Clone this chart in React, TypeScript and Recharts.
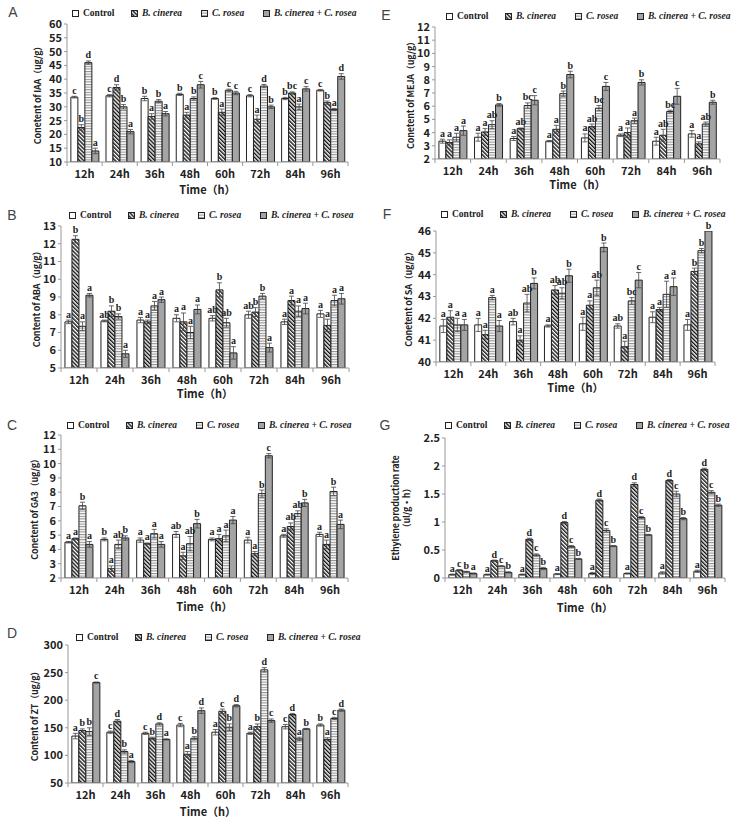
import React from "react";
import { Bar, BarChart, ErrorBar, LabelList, XAxis, YAxis } from "recharts";

const categories = ["12h", "24h", "36h", "48h", "60h", "72h", "84h", "96h"];
const seriesNames = ["Control", "B. cinerea", "C. rosea", "B. cinerea + C. rosea"];

// A - IAA
const iaaCtrl = [33.5, 34, 33, 34.5, 33, 34, 33, 36];
const iaaBc = [22.5, 37, 26.5, 27, 28, 25.5, 35, 31.5];
const iaaCr = [46, 30, 32, 33, 36, 37.5, 30, 29];
const iaaMix = [14, 21, 27.5, 38, 35, 30, 36.5, 41];
const iaaCtrlErr = [0.3, 0.4, 0.8, 0.4, 0.3, 0.4, 0.4, 0.3];
const iaaBcErr = [1, 1, 1, 1, 1.2, 1.5, 0.4, 0.6];
const iaaCrErr = [0.6, 0.8, 0.6, 0.6, 0.4, 0.6, 1, 0.4];
const iaaMixErr = [1, 0.8, 0.8, 1.2, 0.6, 0.6, 0.8, 1];
const iaaCtrlSig = "c c b b b c b c".split(" ");
const iaaBcSig = "b d a a a a bc b".split(" ");
const iaaCrSig = "d b b b c d a a".split(" ");
const iaaMixSig = "a a a c c b c d".split(" ");
const iaaTicks = [10, 15, 20, 25, 30, 35, 40, 45, 50, 55, 60];

// B - ABA
const abaCtrl = [7.6, 7.65, 7.7, 7.8, 7.8, 8.0, 7.6, 8.05];
const abaBc = [12.25, 8.2, 7.6, 7.6, 9.4, 8.15, 8.8, 7.4];
const abaCr = [7.35, 7.9, 8.5, 7.0, 7.55, 9.05, 8.2, 8.8];
const abaMix = [9.1, 5.8, 8.85, 8.3, 5.85, 6.15, 8.35, 8.9];
const abaCtrlErr = [0.1, 0.05, 0.15, 0.2, 0.15, 0.2, 0.15, 0.2];
const abaBcErr = [0.2, 0.3, 0.1, 0.5, 0.4, 0.25, 0.25, 0.35];
const abaCrErr = [0.25, 0.15, 0.25, 0.35, 0.25, 0.15, 0.3, 0.3];
const abaMixErr = [0.1, 0.2, 0.15, 0.25, 0.35, 0.25, 0.3, 0.3];
const abaCtrlSig = "a ab a a ab ab a a".split(" ");
const abaBcSig = "b b a a b b a a".split(" ");
const abaCrSig = "a b a a ab b a a".split(" ");
const abaMixSig = "a a a a a a a a".split(" ");
const abaTicks = [5, 6, 7, 8, 9, 10, 11, 12, 13];

// C - GA3
const gaCtrl = [4.5, 4.7, 4.65, 5.05, 4.7, 4.65, 4.95, 5.05];
const gaBc = [4.75, 2.65, 4.4, 3.55, 4.75, 3.7, 5.6, 4.35];
const gaCr = [7.05, 4.35, 5.1, 4.4, 4.95, 7.9, 6.5, 8.05];
const gaMix = [4.35, 4.8, 4.35, 5.8, 6.05, 10.55, 7.25, 5.75];
const gaCtrlErr = [0.05, 0.1, 0.15, 0.2, 0.1, 0.2, 0.1, 0.15];
const gaBcErr = [0.05, 0.2, 0.05, 0.25, 0.3, 0.15, 0.25, 0.3];
const gaCrErr = [0.25, 0.3, 0.3, 0.5, 0.4, 0.25, 0.2, 0.3];
const gaMixErr = [0.2, 0.15, 0.2, 0.3, 0.25, 0.15, 0.25, 0.3];
const gaCtrlSig = "a b a ab a a a a".split(" ");
const gaBcSig = "a a a a a a ab a".split(" ");
const gaCrSig = "b ab a ab a b ab b".split(" ");
const gaMixSig = "a b a b a c b a".split(" ");
const gaTicks = [2, 3, 4, 5, 6, 7, 8, 9, 10, 11, 12];

// D - ZT
const ztCtrl = [135, 142, 140, 155, 142, 140, 152, 155];
const ztBc = [145, 162, 131, 102, 180, 152, 174, 129];
const ztCr = [143, 107, 157, 131, 151, 255, 130, 167];
const ztMix = [232, 89, 129, 181, 190, 163, 148, 182];
const ztCtrlErr = [5, 2, 2, 3, 5, 2, 4, 2];
const ztBcErr = [3, 3, 2, 5, 4, 5, 2, 3];
const ztCrErr = [7, 3, 2, 3, 6, 4, 3, 2];
const ztMixErr = [1, 2, 1, 5, 2, 3, 1, 2];
const ztCtrlSig = "a c c c a a c b".split(" ");
const ztBcSig = "b d b a c b d a".split(" ");
const ztCrSig = "b b d b b d a c".split(" ");
const ztMixSig = "c a a d d c b d".split(" ");
const ztTicks = [50, 100, 150, 200, 250, 300];

// E - MEJA
const mejaCtrl = [3.35, 3.65, 3.55, 3.35, 3.6, 3.8, 3.35, 3.9];
const mejaBc = [3.25, 4.05, 4.3, 4.25, 4.45, 4.0, 3.8, 3.15];
const mejaCr = [3.65, 4.6, 6.05, 6.95, 5.85, 4.9, 5.6, 4.65];
const mejaMix = [4.15, 6.1, 6.45, 8.4, 7.5, 7.8, 6.75, 6.3];
const mejaCtrlErr = [0.15, 0.3, 0.15, 0.05, 0.3, 0.1, 0.3, 0.25];
const mejaBcErr = [0.2, 0.25, 0.05, 0.3, 0.2, 0.35, 0.45, 0.15];
const mejaCrErr = [0.3, 0.3, 0.2, 0.2, 0.2, 0.2, 0.1, 0.15];
const mejaMixErr = [0.35, 0.1, 0.35, 0.25, 0.3, 0.2, 0.6, 0.15];
const mejaCtrlSig = "a a a a a a a a".split(" ");
const mejaBcSig = "a a ab a ab a ab a".split(" ");
const mejaCrSig = "a ab bc b bc a bc ab".split(" ");
const mejaMixSig = "a b c b c b c b".split(" ");
const mejaTicks = [2, 3, 4, 5, 6, 7, 8, 9, 10, 11, 12];

// F - SA
const saCtrl = [41.65, 41.7, 41.85, 41.65, 41.75, 41.65, 42.05, 41.7];
const saBc = [42.05, 41.25, 41.0, 43.3, 42.6, 40.7, 42.4, 44.15];
const saCr = [41.7, 42.95, 42.7, 43.15, 43.4, 42.8, 43.1, 45.1];
const saMix = [41.7, 41.65, 43.6, 43.95, 45.25, 43.75, 43.45, 46.0];
const saCtrlErr = [0.3, 0.3, 0.15, 0.05, 0.3, 0.1, 0.25, 0.25];
const saBcErr = [0.3, 0.2, 0.2, 0.2, 0.2, 0.25, 0.1, 0.15];
const saCrErr = [0.3, 0.1, 0.4, 0.25, 0.35, 0.15, 0.6, 0.1];
const saMixErr = [0.25, 0.25, 0.25, 0.3, 0.2, 0.35, 0.4, 0];
const saCtrlSig = "a a ab a a ab a a".split(" ");
const saBcSig = "a a a ab a a a b".split(" ");
const saCrSig = "a a ab ab ab bc a b".split(" ");
const saMixSig = "a a b b b c a b".split(" ");
const saTicks = [40, 41, 42, 43, 44, 45, 46];

// G - Ethylene
const ethCtrl = [0.06, 0.06, 0.06, 0.07, 0.08, 0.08, 0.09, 0.12];
const ethBc = [0.14, 0.31, 0.69, 0.99, 1.39, 1.67, 1.74, 1.94];
const ethCr = [0.11, 0.21, 0.41, 0.56, 0.85, 1.08, 1.5, 1.53];
const ethMix = [0.08, 0.1, 0.17, 0.34, 0.57, 0.77, 1.06, 1.3];
const ethCtrlErr = [0.01, 0.01, 0.01, 0.01, 0.02, 0.01, 0.02, 0.02];
const ethBcErr = [0.01, 0.01, 0.02, 0.02, 0.02, 0.03, 0.02, 0.02];
const ethCrErr = [0.01, 0.01, 0.02, 0.02, 0.03, 0.02, 0.05, 0.03];
const ethMixErr = [0.01, 0.01, 0.02, 0.01, 0.01, 0.01, 0.02, 0.02];
const ethCtrlSig = "a a a a a a a a".split(" ");
const ethBcSig = "c d d d d d d d".split(" ");
const ethCrSig = "b c c c c c c c".split(" ");
const ethMixSig = "a b b b b b b b".split(" ");
const ethTicks = [0, 0.5, 1, 1.5, 2, 2.5];

const KEYS = ["ctrl", "bc", "cr", "mix"];
const FILLS = ["#ffffff", "url(#pHatch)", "url(#pHline)", "#a4a4a4"];
const SANS = '"Noto Sans CJK SC", "Noto Sans", sans-serif';
const SERIF = '"Liberation Serif", "Times New Roman", serif';

function makeRows(vals: number[][], errs: number[][], sigs: string[][]) {
  return categories.map((t, i) => {
    const row: any = { t };
    KEYS.forEach((k, j) => {
      row[k] = vals[j][i];
      row[k + "E"] = errs[j][i];
      row[k + "S"] = sigs[j][i] + "|" + errs[j][i];
    });
    return row;
  });
}

type PanelProps = {
  letter: string;
  letterPos: [number, number];
  yLabel: string[];
  yLabelX: number;
  rows: any[];
  domain: [number, number];
  ticks: number[];
  plot: { l: number; r: number; t: number; b: number };
  legendX: number;
  legendY: number;
  timeY: number;
};

const YW = 40;
const XH = 26;
const TOP = 18;

function Swatch({ fill }: { fill: string }) {
  return (
    <svg width={7} height={7} style={{ display: "block" }}>
      <rect x={0.5} y={0.5} width={6} height={6} fill={fill} stroke="#222" strokeWidth={1} />
    </svg>
  );
}

function Panel(p: PanelProps) {
  const { l, r, t, b } = p.plot;
  const plotW = r - l;
  const plotH = b - t;
  const ppu = plotH / (p.domain[1] - p.domain[0]);
  const half = plotW / categories.length / 2;

  const renderSig = (props: any) => {
    const { x, y, width, value } = props;
    const [s, e] = String(value).split("|");
    const ty = Number(y) - Number(e) * ppu - 2.5;
    return (
      <text
        x={Number(x) + Number(width) / 2}
        y={ty}
        textAnchor="middle"
        fontSize={10}
        fontWeight="bold"
        fontFamily={SERIF}
        fill="#222"
      >
        {s}
      </text>
    );
  };

  const renderTick = (props: any) => {
    const { x, y, payload, index } = props;
    return (
      <g>
        <line x1={x + half} x2={x + half} y1={y} y2={y + 4} stroke="#999" />
        {index === 0 && <line x1={x - half} x2={x - half} y1={y} y2={y + 4} stroke="#999" />}
        <text
          x={x}
          y={y + 16}
          textAnchor="middle"
          fontSize={11}
          fontWeight="bold"
          fontFamily={SANS}
          fill="#222"
        >
          {payload.value}
        </text>
      </g>
    );
  };

  const legendOffsets = [0, 59, 129, 191];

  return (
    <>
      <div
        style={{
          position: "absolute",
          left: p.letterPos[0],
          top: p.letterPos[1],
          transform: "translate(-50%,-50%)",
          fontFamily: '"Liberation Sans", sans-serif',
          fontSize: 14,
          color: "#444",
        }}
      >
        {p.letter}
      </div>
      {seriesNames.map((n, j) => (
        <div
          key={n}
          style={{
            position: "absolute",
            left: p.legendX + legendOffsets[j],
            top: p.legendY - 6,
            height: 12,
            display: "flex",
            alignItems: "center",
            gap: 4,
            whiteSpace: "nowrap",
            fontFamily: SERIF,
            fontWeight: "bold",
            fontStyle: j === 0 ? "normal" : "italic",
            fontSize: 9.5,
            color: "#222",
          }}
        >
          <Swatch fill={FILLS[j]} />
          <span>{n}</span>
        </div>
      ))}
      <div
        style={{
          position: "absolute",
          left: p.yLabelX,
          top: (t + b) / 2,
          transform: "translate(-50%,-50%) rotate(-90deg)",
          whiteSpace: "nowrap",
          textAlign: "center",
          fontFamily: SANS,
          fontWeight: "bold",
          fontSize: 9,
          letterSpacing: -0.2,
          lineHeight: "11px",
          color: "#222",
        }}
      >
        {p.yLabel.map((s, i) => (
          <div key={i}>{s}</div>
        ))}
      </div>
      <div
        style={{
          position: "absolute",
          left: (l + r) / 2,
          top: p.timeY,
          transform: "translate(-50%,-50%)",
          whiteSpace: "nowrap",
          fontFamily: SANS,
          fontWeight: "bold",
          fontSize: 11,
          color: "#222",
        }}
      >
        Time（h）
      </div>
      <div style={{ position: "absolute", left: l - YW, top: t - TOP }}>
        <BarChart
          width={plotW + YW + 6}
          height={plotH + TOP + XH}
          data={p.rows}
          margin={{ top: TOP, right: 6, left: 0, bottom: 0 }}
          barCategoryGap="11%"
          barGap={0}
        >
          <XAxis
            dataKey="t"
            height={XH}
            tickLine={false}
            tickSize={0}
            tickMargin={0}
            axisLine={{ stroke: "#999" }}
            tick={renderTick}
            interval={0}
          />
          <YAxis
            width={YW}
            domain={p.domain}
            ticks={p.ticks}
            allowDataOverflow
            interval={0}
            tickSize={3}
            tickMargin={2}
            axisLine={{ stroke: "#999" }}
            tickLine={{ stroke: "#999" }}
            tick={{ fontSize: 11, fontWeight: "bold", fill: "#222", fontFamily: SANS }}
          />
          {KEYS.map((k, j) => (
            <Bar
              key={k}
              dataKey={k}
              fill={FILLS[j]}
              stroke="#222"
              strokeWidth={1}
              isAnimationActive={false}
            >
              <ErrorBar dataKey={k + "E"} width={2.5} stroke="#444" strokeWidth={0.8} direction="y" />
              <LabelList dataKey={k + "S"} content={renderSig} />
            </Bar>
          ))}
        </BarChart>
      </div>
    </>
  );
}

export default function App() {
  const panels: PanelProps[] = [
    {
      letter: "A",
      letterPos: [13, 12],
      yLabel: ["Conetent of IAA（ug/g）"],
      yLabelX: 37,
      rows: makeRows([iaaCtrl, iaaBc, iaaCr, iaaMix], [iaaCtrlErr, iaaBcErr, iaaCrErr, iaaMixErr], [iaaCtrlSig, iaaBcSig, iaaCrSig, iaaMixSig]),
      domain: [10, 60],
      ticks: iaaTicks,
      plot: { l: 67, r: 348, t: 24, b: 162 },
      legendX: 72,
      legendY: 13,
      timeY: 189,
    },
    {
      letter: "B",
      letterPos: [12, 215],
      yLabel: ["Content of ABA（ug/g）"],
      yLabelX: 36,
      rows: makeRows([abaCtrl, abaBc, abaCr, abaMix], [abaCtrlErr, abaBcErr, abaCrErr, abaMixErr], [abaCtrlSig, abaBcSig, abaCrSig, abaMixSig]),
      domain: [5, 13],
      ticks: abaTicks,
      plot: { l: 61, r: 349, t: 226, b: 368 },
      legendX: 69,
      legendY: 215,
      timeY: 393,
    },
    {
      letter: "C",
      letterPos: [12, 425],
      yLabel: ["Conetent of GA3（ug/g）"],
      yLabelX: 34,
      rows: makeRows([gaCtrl, gaBc, gaCr, gaMix], [gaCtrlErr, gaBcErr, gaCrErr, gaMixErr], [gaCtrlSig, gaBcSig, gaCrSig, gaMixSig]),
      domain: [2, 12],
      ticks: gaTicks,
      plot: { l: 61, r: 348, t: 435, b: 578 },
      legendX: 67,
      legendY: 425,
      timeY: 606,
    },
    {
      letter: "D",
      letterPos: [12, 633],
      yLabel: ["Content of ZT（ug/g）"],
      yLabelX: 34,
      rows: makeRows([ztCtrl, ztBc, ztCr, ztMix], [ztCtrlErr, ztBcErr, ztCrErr, ztMixErr], [ztCtrlSig, ztBcSig, ztCrSig, ztMixSig]),
      domain: [50, 300],
      ticks: ztTicks,
      plot: { l: 68, r: 348, t: 645, b: 783 },
      legendX: 76,
      legendY: 637,
      timeY: 811,
    },
    {
      letter: "E",
      letterPos: [386, 15],
      yLabel: ["Conetent of MEJA（ug/g）"],
      yLabelX: 410,
      rows: makeRows([mejaCtrl, mejaBc, mejaCr, mejaMix], [mejaCtrlErr, mejaBcErr, mejaCrErr, mejaMixErr], [mejaCtrlSig, mejaBcSig, mejaCrSig, mejaMixSig]),
      domain: [2, 12],
      ticks: mejaTicks,
      plot: { l: 435, r: 720, t: 27, b: 159 },
      legendX: 446,
      legendY: 16,
      timeY: 184,
    },
    {
      letter: "F",
      letterPos: [387, 214],
      yLabel: ["Conetent of SA（ug/g）"],
      yLabelX: 408,
      rows: makeRows([saCtrl, saBc, saCr, saMix], [saCtrlErr, saBcErr, saCrErr, saMixErr], [saCtrlSig, saBcSig, saCrSig, saMixSig]),
      domain: [40, 46],
      ticks: saTicks,
      plot: { l: 436, r: 715, t: 231, b: 362 },
      legendX: 441,
      legendY: 214,
      timeY: 387,
    },
    {
      letter: "G",
      letterPos: [385, 425],
      yLabel: ["Ethylene production rate", "（ul/g•h）"],
      yLabelX: 401,
      rows: makeRows([ethCtrl, ethBc, ethCr, ethMix], [ethCtrlErr, ethBcErr, ethCrErr, ethMixErr], [ethCtrlSig, ethBcSig, ethCrSig, ethMixSig]),
      domain: [0, 2.5],
      ticks: ethTicks,
      plot: { l: 445, r: 725, t: 438, b: 578 },
      legendX: 445,
      legendY: 425,
      timeY: 607,
    },
  ];

  return (
    <div
      style={{
        position: "absolute",
        left: 0,
        top: 0,
        width: 732,
        height: 821,
        background: "#fff",
        overflow: "hidden",
      }}
    >
      <svg width={0} height={0} style={{ position: "absolute" }}>
        <defs>
          <pattern id="pHatch" width={2.8} height={2.8} patternUnits="userSpaceOnUse" patternTransform="rotate(-45)">
            <rect width={2.8} height={2.8} fill="#fff" />
            <line x1={0.7} y1={0} x2={0.7} y2={2.8} stroke="#111" strokeWidth={1.4} />
          </pattern>
          <pattern id="pHline" width={4} height={2.6} patternUnits="userSpaceOnUse">
            <rect width={4} height={2.6} fill="#fff" />
            <line x1={0} y1={0.6} x2={4} y2={0.6} stroke="#777" strokeWidth={0.9} />
          </pattern>
        </defs>
      </svg>
      {panels.map((p) => (
        <Panel key={p.letter} {...p} />
      ))}
    </div>
  );
}
